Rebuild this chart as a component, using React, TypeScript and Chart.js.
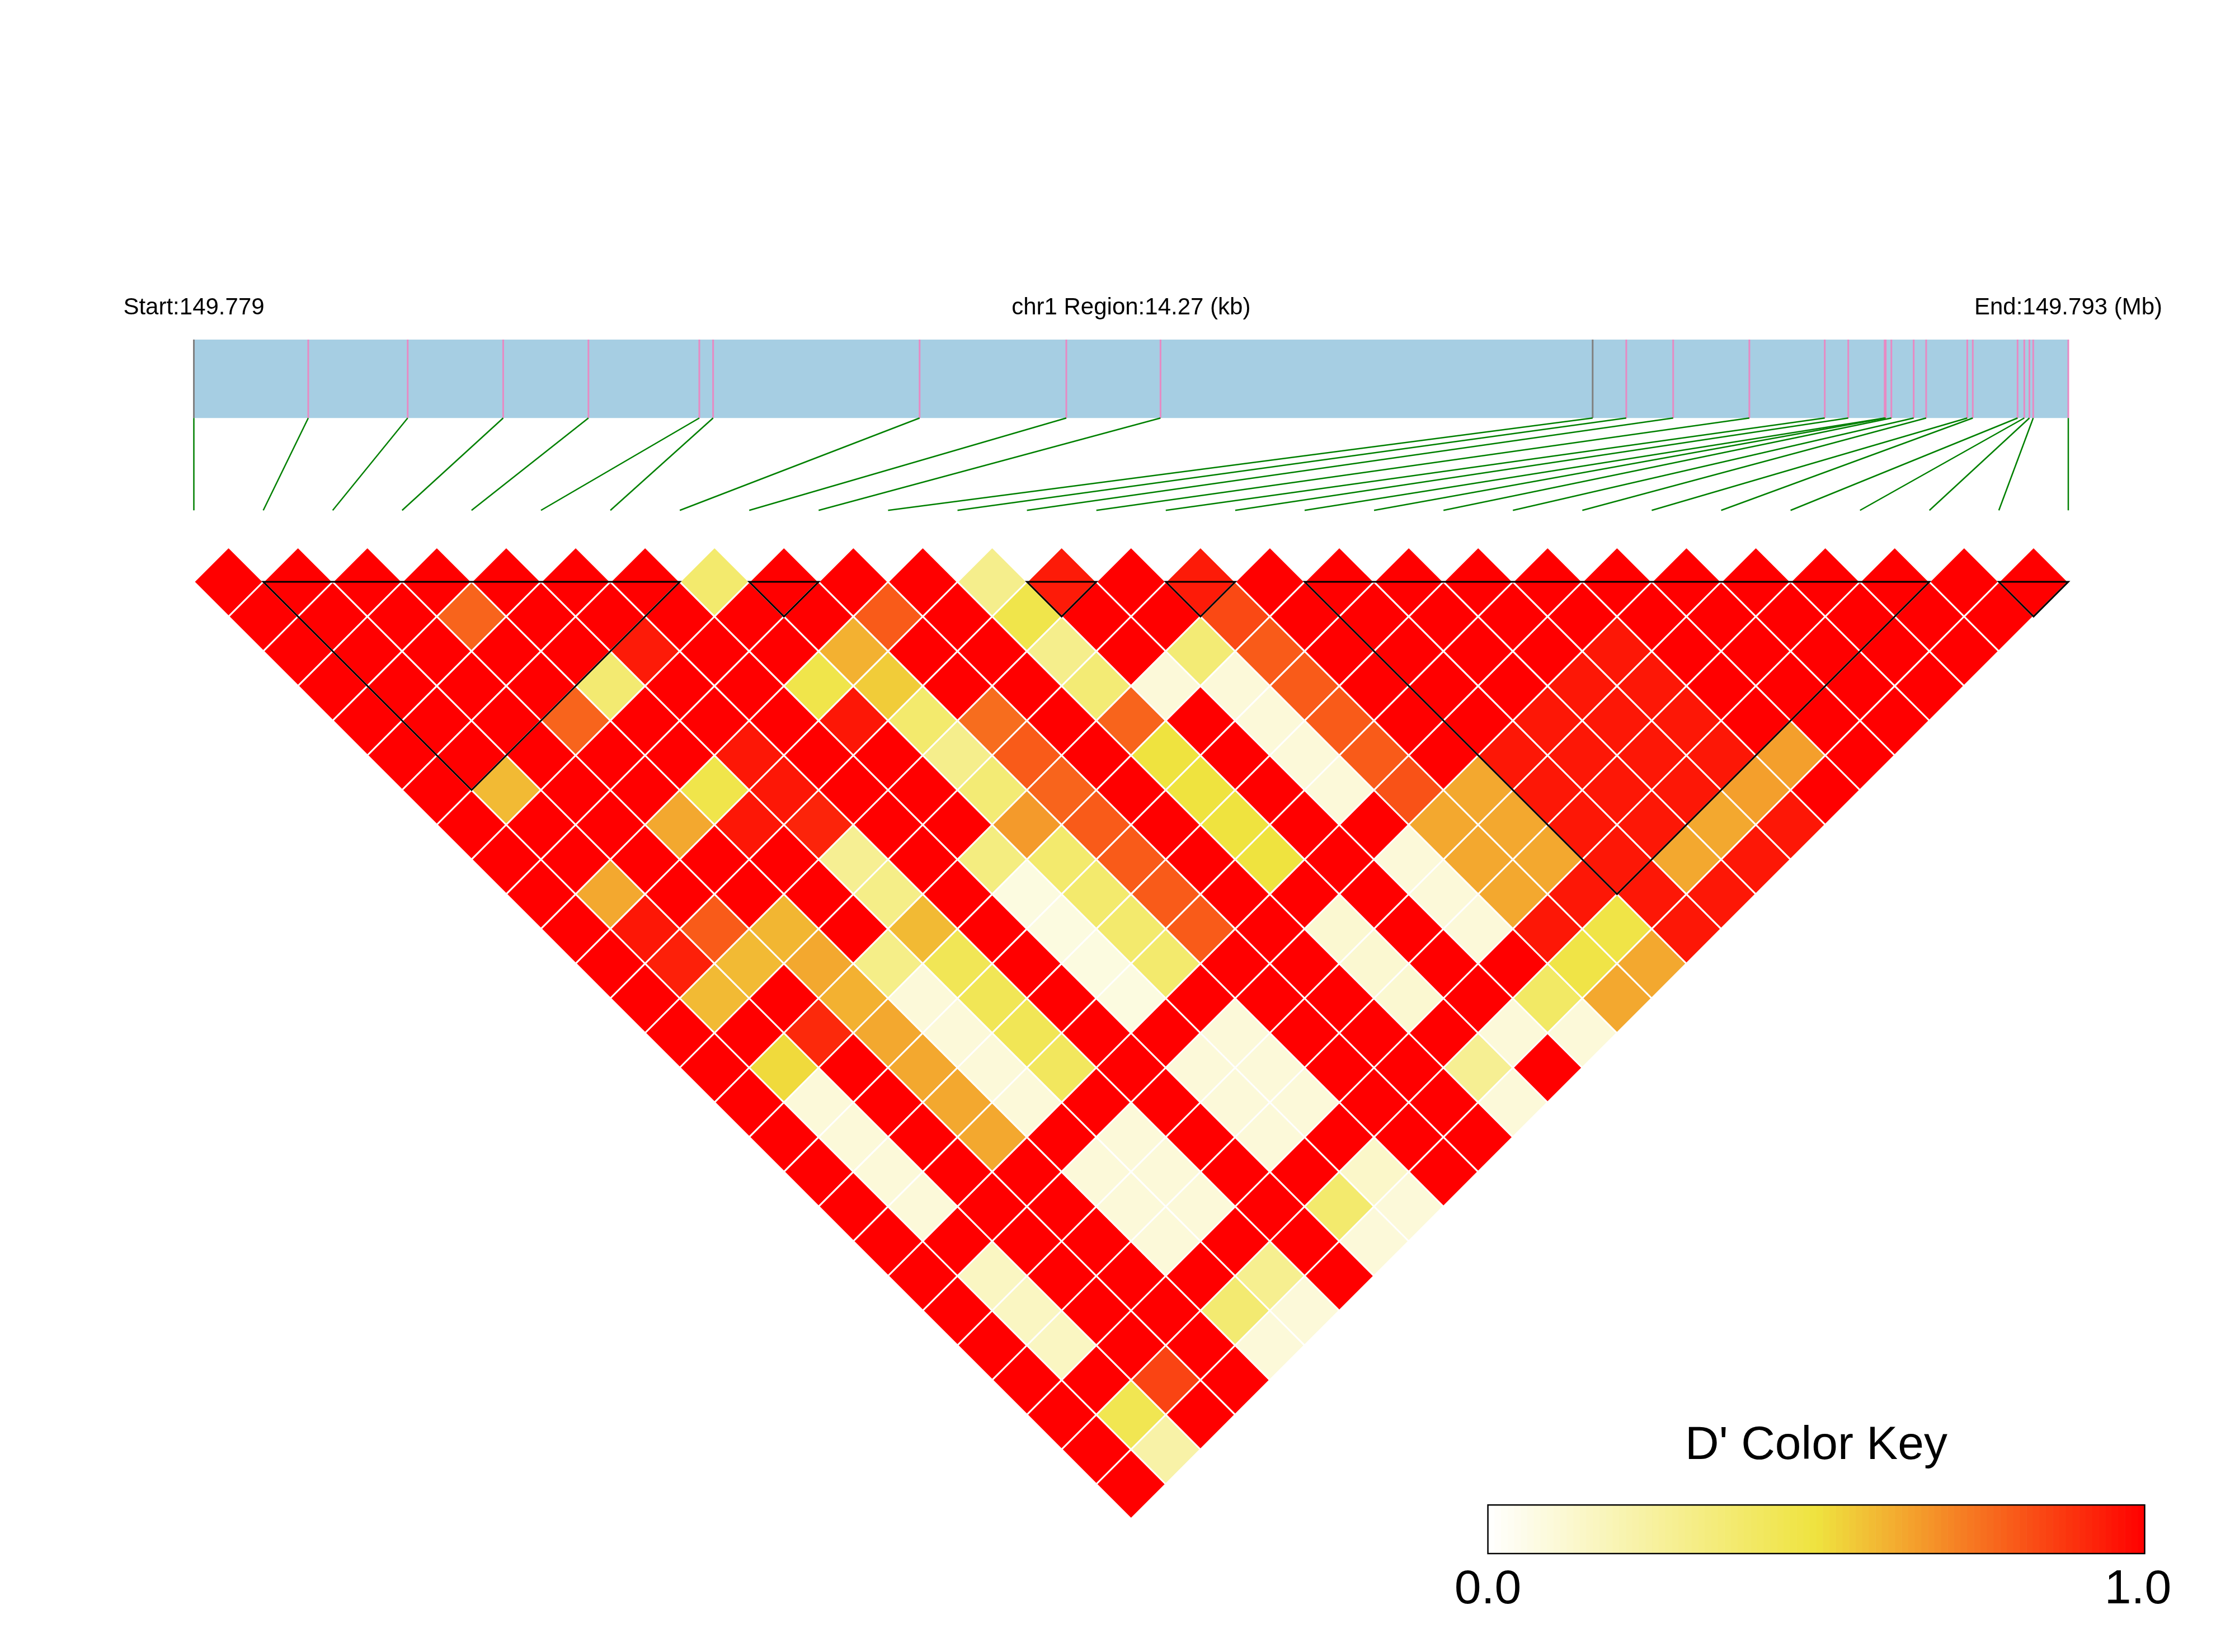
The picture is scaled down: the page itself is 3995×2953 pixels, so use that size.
import React, { useEffect, useRef } from "react";
import { Chart, registerables } from "chart.js";

Chart.register(...registerables);

const W = 3995;
const H = 2953;

// ---------- data ----------
const CHROM = "chr1";
const REGION_START_BP = 149778900;
// SNP physical positions (bp offset from region start)
const SNP_OFFSET_BP = [
  0, 871, 1628, 2355, 3004, 3848, 3953, 5525, 6642, 7359, 10649, 10905, 11262, 11842,
  12416, 12595, 12872, 12880, 12923, 13093, 13188, 13501, 13543, 13884, 13935, 13974, 14003, 14270,
];
// SNPs drawn with grey tick marks on the region bar
const GREY_TICK_SNPS = [0, 10];
// haplotype blocks (first SNP index, last SNP index)
const BLOCKS = [
  [1, 7],
  [8, 9],
  [12, 13],
  [14, 15],
  [16, 25],
  [26, 27],
];
// D' values: row i lists pairs (i, j) for j = i+1 .. 27
const DPRIME: number[][] = [
  [1, 1, 1, 1, 1, 1, 1, 1, 1, 1, 1, 1, 1, 1, 1, 1, 1, 1, 1, 1, 1, 1, 1, 1, 1, 1, 1],
  [1, 1, 1, 1, 1, 1, 0.59, 1, 1, 0.63, 0.95, 0.93, 0.59, 1, 0.52, 0.1, 0.1, 0.1, 0.1, 1, 0.16, 0.16, 0.16, 1, 0.45, 0.23],
  [1, 1, 1, 1, 1, 1, 1, 1, 1, 1, 0.8, 0.59, 1, 0.91, 1, 1, 1, 1, 1, 1, 1, 1, 1, 0.85, 1],
  [1, 0.78, 1, 1, 0.78, 1, 1, 0.63, 1, 1, 0.6, 0.63, 0.61, 0.63, 0.63, 0.63, 0.63, 1, 1, 1, 1, 1, 1, 1],
  [1, 1, 1, 0.37, 1, 1, 0.47, 0.95, 1, 1, 1, 0.31, 0.1, 0.1, 0.1, 0.1, 1, 0.1, 0.1, 0.1, 1, 0.37, 0.1],
  [1, 1, 0.94, 1, 1, 0.95, 0.95, 0.92, 0.28, 0.31, 0.59, 0.44, 0.44, 0.44, 0.42, 1, 0.1, 0.1, 0.1, 1, 0.29, 0.1],
  [1, 1, 1, 1, 1, 1, 1, 1, 1, 1, 1, 1, 1, 1, 1, 1, 1, 1, 1, 1, 1],
  [0.38, 1, 1, 0.47, 0.95, 1, 1, 1, 0.33, 0.08, 0.08, 0.08, 0.08, 1, 0.1, 0.1, 0.1, 1, 0.38, 0.1],
  [1, 1, 0.61, 0.55, 0.38, 0.3, 0.36, 0.66, 0.38, 0.38, 0.38, 0.38, 1, 0.1, 0.1, 0.1, 1, 0.14, 0.1],
  [1, 0.8, 1, 1, 0.76, 0.8, 0.78, 0.8, 0.8, 0.8, 0.8, 1, 1, 1, 1, 1, 1, 1],
  [1, 1, 1, 1, 1, 1, 1, 1, 1, 1, 1, 1, 1, 1, 1, 1, 1],
  [0.3, 0.47, 0.3, 0.36, 0.78, 0.5, 0.5, 0.5, 0.5, 1, 0.12, 0.12, 0.12, 1, 0.28, 0.1],
  [0.94, 1, 1, 0.1, 1, 1, 1, 1, 1, 1, 1, 1, 1, 0.1, 1],
  [1, 1, 0.36, 0.1, 0.1, 0.1, 0.1, 1, 0.1, 0.1, 0.1, 1, 0.4, 0.1],
  [0.94, 0.84, 0.8, 0.8, 0.8, 0.8, 0.82, 0.63, 0.63, 0.63, 0.95, 0.48, 0.63],
  [1, 1, 1, 1, 1, 1, 0.63, 0.63, 0.63, 0.95, 0.48, 0.63],
  [1, 1, 1, 1, 1, 0.95, 0.95, 0.95, 0.95, 0.95, 0.95],
  [1, 1, 1, 1, 0.95, 0.95, 0.95, 0.95, 0.63, 0.95],
  [1, 1, 1, 0.95, 0.95, 0.95, 0.95, 0.63, 0.95],
  [1, 1, 0.95, 0.95, 0.95, 0.95, 0.65, 0.95],
  [1, 1, 1, 1, 1, 0.65, 1],
  [1, 1, 1, 1, 1, 1],
  [1, 1, 1, 1, 1],
  [1, 1, 1, 1],
  [1, 1, 1],
  [1, 1],
  [1],
];
const KEY_TICKS = ["0.0", "1.0"];

// ---------- styles / layout ----------
const FONT = '"Liberation Sans", Arial, Helvetica, sans-serif';
const COLOR_STOPS: [number, number[]][] = [
  [0, [255, 255, 255]],
  [0.5, [239, 227, 63]],
  [1, [255, 0, 0]],
];
const BAR_COLOR = "#A6CEE3";
const PINK = "#E78AC3";
const GREY = "#808080";
const GREEN = "#008000";
// y positions in cell units (0 = top of first row of diamonds)
const TEXT_Y = -3.35;
const BAR_TOP_Y = -2.99;
const BAR_BOT_Y = -1.86;
const LINK_BOT_Y = -0.53;
// colour key (in cell units)
const KEY_X0 = 18.64;
const KEY_X1 = 28.1;
const KEY_Y0 = 13.8;
const KEY_Y1 = 14.5;
const KEY_TITLE_Y = 13.14;
const KEY_LABEL_Y = 15.22;

function ldColor(v: number): string {
  const x = Math.max(0, Math.min(1, v));
  for (let s = 0; s < COLOR_STOPS.length - 1; s++) {
    const [v0, c0] = COLOR_STOPS[s];
    const [v1, c1] = COLOR_STOPS[s + 1];
    if (x <= v1) {
      const t = (x - v0) / (v1 - v0);
      const c = c0.map((a, k) => Math.round(a + (c1[k] - a) * t));
      return `rgb(${c[0]},${c[1]},${c[2]})`;
    }
  }
  return "rgb(255,0,0)";
}

const ldPlugin = {
  id: "ldDecor",
  afterDatasetsDraw(chart: any) {
    const ctx = chart.ctx;
    const xs = chart.scales.x;
    const ys = chart.scales.y;
    // haplotype blocks
    ctx.save();
    ctx.strokeStyle = "#000";
    ctx.lineWidth = 3;
    ctx.lineJoin = "miter";
    BLOCKS.forEach(([a, b]) => {
      ctx.beginPath();
      ctx.moveTo(xs.getPixelForValue(a), ys.getPixelForValue(0.5));
      ctx.lineTo(xs.getPixelForValue(b), ys.getPixelForValue(0.5));
      ctx.lineTo(xs.getPixelForValue((a + b) / 2), ys.getPixelForValue(0.5 + (b - a) / 2));
      ctx.closePath();
      ctx.stroke();
    });
    ctx.restore();
  },
  afterDraw(chart: any) {
    const ctx = chart.ctx;
    const xs = chart.scales.x;
    const ys = chart.scales.y;
    const xp = chart.scales.pos;
    const start = REGION_START_BP + SNP_OFFSET_BP[0];
    const end = REGION_START_BP + SNP_OFFSET_BP[SNP_OFFSET_BP.length - 1];
    const barL = xp.getPixelForValue(start);
    const barR = xp.getPixelForValue(end);
    const yTop = ys.getPixelForValue(BAR_TOP_Y);
    const yBot = ys.getPixelForValue(BAR_BOT_Y);
    const yLink = ys.getPixelForValue(LINK_BOT_Y);
    ctx.save();
    // region bar
    ctx.fillStyle = BAR_COLOR;
    ctx.fillRect(barL, yTop, barR - barL, yBot - yTop);
    // ticks
    ctx.lineWidth = 3;
    SNP_OFFSET_BP.forEach((off, i) => {
      const x = xp.getPixelForValue(REGION_START_BP + off);
      ctx.strokeStyle = GREY_TICK_SNPS.includes(i) ? GREY : PINK;
      ctx.beginPath();
      ctx.moveTo(x, yTop);
      ctx.lineTo(x, yBot);
      ctx.stroke();
    });
    // links
    ctx.strokeStyle = GREEN;
    ctx.lineWidth = 2.5;
    SNP_OFFSET_BP.forEach((off, i) => {
      const x = xp.getPixelForValue(REGION_START_BP + off);
      ctx.beginPath();
      ctx.moveTo(x, yBot);
      ctx.lineTo(xs.getPixelForValue(i), yLink);
      ctx.stroke();
    });
    // header text
    ctx.fillStyle = "#000";
    ctx.font = `42px ${FONT}`;
    ctx.textBaseline = "alphabetic";
    ctx.textAlign = "center";
    const ty = ys.getPixelForValue(TEXT_Y);
    ctx.fillText(`Start:${(start / 1e6).toFixed(3)}`, barL, ty);
    ctx.fillText(`${CHROM} Region:${((end - start) / 1000).toFixed(2)} (kb)`, (barL + barR) / 2, ty);
    ctx.fillText(`End:${(end / 1e6).toFixed(3)} (Mb)`, barR, ty);

    // colour key
    const kx0 = xs.getPixelForValue(KEY_X0);
    const kx1 = xs.getPixelForValue(KEY_X1);
    const ky0 = ys.getPixelForValue(KEY_Y0);
    const ky1 = ys.getPixelForValue(KEY_Y1);
    const steps = 100;
    const sw = (kx1 - kx0) / steps;
    for (let s = 0; s < steps; s++) {
      ctx.fillStyle = ldColor((s + 0.5) / steps);
      ctx.fillRect(kx0 + s * sw, ky0, sw + 0.6, ky1 - ky0);
    }
    ctx.strokeStyle = "#000";
    ctx.lineWidth = 2.5;
    ctx.strokeRect(kx0, ky0, kx1 - kx0, ky1 - ky0);
    ctx.fillStyle = "#000";
    ctx.font = `84px ${FONT}`;
    ctx.textAlign = "center";
    ctx.fillText("D' Color Key", (kx0 + kx1) / 2, ys.getPixelForValue(KEY_TITLE_Y));
    ctx.font = `86px ${FONT}`;
    ctx.fillText(KEY_TICKS[0], kx0, ys.getPixelForValue(KEY_LABEL_Y));
    ctx.fillText(KEY_TICKS[1], kx1 - 12, ys.getPixelForValue(KEY_LABEL_Y));
    ctx.restore();
  },
};

export default function App() {
  const ref = useRef<HTMLCanvasElement>(null);
  useEffect(() => {
    document.body.style.margin = "0";
    const points: { x: number; y: number; v: number }[] = [];
    DPRIME.forEach((row, i) =>
      row.forEach((v, k) => {
        const j = i + 1 + k;
        points.push({ x: (i + j) / 2, y: (j - i) / 2, v });
      })
    );
    const start = REGION_START_BP + SNP_OFFSET_BP[0];
    const end = REGION_START_BP + SNP_OFFSET_BP[SNP_OFFSET_BP.length - 1];
    const nSnp = SNP_OFFSET_BP.length;
    const chart = new Chart(ref.current as HTMLCanvasElement, {
      type: "scatter",
      data: {
        datasets: [
          {
            data: points as any,
            pointStyle: "rectRot",
            pointRadius: (c: any) => {
              const s = c.chart.scales.x;
              return Math.abs(s.getPixelForValue(0.5) - s.getPixelForValue(0));
            },
            pointBackgroundColor: (c: any) => ldColor(c.raw ? c.raw.v : 1),
            pointBorderColor: "#ffffff",
            pointBorderWidth: 3,
            pointHoverRadius: 0,
            showLine: false,
            clip: false as any,
          } as any,
        ],
      },
      options: {
        responsive: false,
        animation: false,
        events: [],
        devicePixelRatio: 1,
        layout: { padding: { left: 346.5, right: 298, top: 978, bottom: 238 } },
        scales: {
          x: { type: "linear", min: 0, max: nSnp - 1, display: false },
          y: { type: "linear", min: 0, max: (nSnp - 1) / 2 + 0.5, reverse: true, display: false },
          pos: { type: "linear", axis: "x", position: "top", min: start, max: end, display: false } as any,
        },
        plugins: { legend: { display: false }, tooltip: { enabled: false } },
      },
      plugins: [ldPlugin],
    });
    return () => chart.destroy();
  }, []);
  return (
    <div style={{ width: W, height: H, background: "#fff" }}>
      <canvas ref={ref} width={W} height={H} style={{ display: "block" }} />
    </div>
  );
}
